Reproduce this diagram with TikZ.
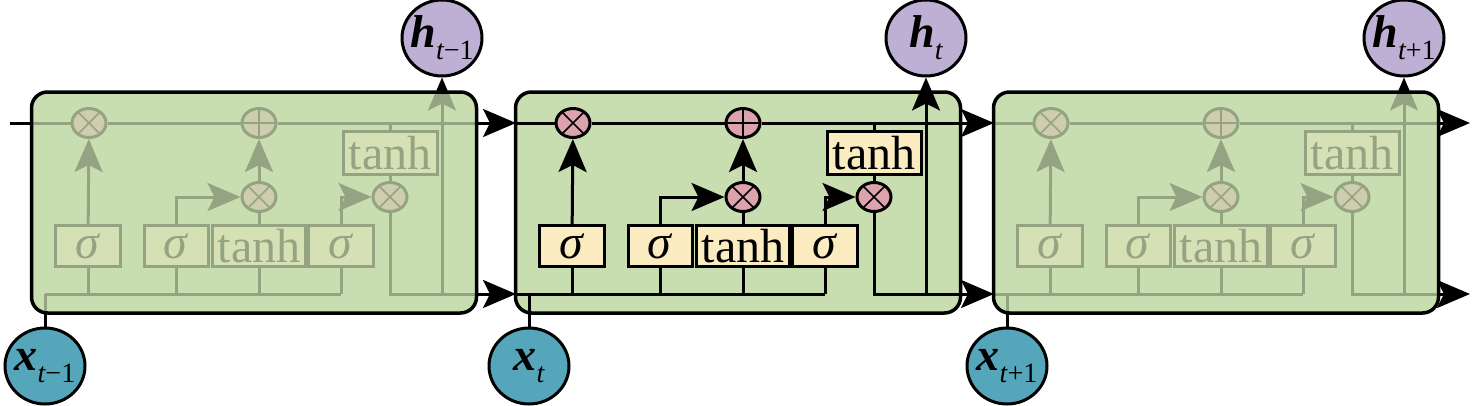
\documentclass[tikz,border=0pt]{standalone}
\usepackage{fontspec}
\setmainfont{Liberation Serif}
\usetikzlibrary{arrows.meta,shapes.geometric}
\definecolor{cellgreen}{RGB}{201,222,176}
\definecolor{oppink}{RGB}{221,163,172}
\definecolor{gateyellow}{RGB}{250,236,192}
\definecolor{hpurple}{RGB}{190,176,212}
\definecolor{xteal}{RGB}{86,166,187}
\newcommand\veclab[2]{{\fontsize{46}{46}\selectfont\bfseries\itshape #1}\raisebox{-12pt}{\fontsize{28}{28}\selectfont\itshape #2}}

\begin{document}
\begin{tikzpicture}[x=1pt,y=-1pt,line width=3pt, % three unrolled lstm cells
  arr/.style={-{Stealth[length=33pt,width=28pt,inset=7pt]}},
  cellbox/.style={draw,line width=3.5pt,fill=cellgreen,rounded corners=16pt,minimum width=445pt,minimum height=221pt},
  op/.style={ellipse,draw,fill=oppink,minimum width=34pt,minimum height=29pt},
  mult/.style={op,path picture={\draw[line width=1.5pt] (path picture bounding box.center) +(-20,-20) -- +(20,20) +(-20,20) -- +(20,-20);}},
  plus/.style={op,path picture={\draw[line width=1.5pt] (path picture bounding box.center) +(-20,0) -- +(20,0) +(0,-20) -- +(0,20);}},
  gate/.style={draw,fill=gateyellow,minimum height=41pt,font=\fontsize{48}{48}\selectfont},
  hnode/.style={ellipse,draw,fill=hpurple,minimum width=80pt,minimum height=76pt},
  xnode/.style={ellipse,draw,fill=xteal,minimum width=80pt,minimum height=76pt}]
\tikzstyle{every node}+=[inner sep=0pt]
\useasboundingbox (0,0) rectangle (1476,405);
\coordinate (a-cin) at (10,123);
\coordinate (b-cin) at (516,123);
\coordinate (c-cin) at (994,123);
\coordinate (d-cin) at (1470,123);
\coordinate (a-hin) at (45,294);
\coordinate (b-hin) at (516,294);
\coordinate (c-hin) at (994,294);
\coordinate (d-hin) at (1470,294);
% cell backgrounds
\node[cellbox] (b-box) at (738,202.5) {};
\fill[cellgreen,rounded corners=16pt] (31.5,92) rectangle (476.5,313);
\fill[cellgreen,rounded corners=16pt] (993.5,92) rectangle (1438.5,313);
\foreach \cl/\L/\nx/\sub in {a/32/b/{t\upshape{}−1},b/516/c/{t},c/994/d/{t\upshape{}+1}}{
  \node[mult] (\cl-f) at (\L+57,123) {};
  \node[plus] (\cl-a) at (\L+227,123) {};
  \node[mult] (\cl-i) at (\L+227,197) {};
  \node[mult] (\cl-o) at (\L+358,197) {};
  \node[gate,minimum width=65pt] (\cl-s1) at (\L+56,246) {\textit{σ}};
  \node[gate,minimum width=64pt] (\cl-s2) at (\L+144,246) {\textit{σ}};
  \node[gate,minimum width=93pt] (\cl-t1) at (\L+227,246) {tanh};
  \node[gate,minimum width=65pt] (\cl-s3) at (\L+309,246) {\textit{σ}};
  \node[gate,minimum width=94pt,minimum height=43pt] (\cl-t2) at (\L+358,153) {tanh};
  \node[hnode,label=center:{\veclab{h}{\sub}}] (\cl-h) at (\L+410,38) {};
  \node[xnode,label=center:{\veclab{x}{\sub}}] (\cl-x) at (\L+13,366) {};
  \draw (\cl-cin) -- (\cl-f) -- (\cl-a);
  \draw[arr] (\cl-a) -- (\nx-cin);
  \draw[arr] (\cl-s1) -- (\cl-f);
  \draw[arr] (\cl-s2.north) |- (\cl-i);
  \draw (\cl-t1) -- (\cl-i);
  \draw[arr] (\cl-i) -- (\cl-a);
  \draw[arr] (\cl-s3.north) |- (\cl-o);
  \draw (\cl-t2) -- (\cl-o);
  \draw (\cl-t2) -- (\cl-t2 |- \cl-a);
  \draw (\cl-hin) -- (\cl-s3 |- \cl-hin);
  \foreach \g in {s1,s2,t1,s3} \draw (\cl-\g) -- (\cl-\g |- \cl-hin);
  \draw (\cl-x) -- (\cl-x |- \cl-hin);
  \draw[arr] (\cl-o) |- (\nx-hin);
  \draw[arr] (\cl-h |- \nx-hin) -- (\cl-h);
}
% faded neighbour cells
\node[cellbox,fill opacity=.74] (a-box) at (254,202.5) {};
\node[cellbox,fill opacity=.74] (c-box) at (1216,202.5) {};
\end{tikzpicture}
\end{document}
